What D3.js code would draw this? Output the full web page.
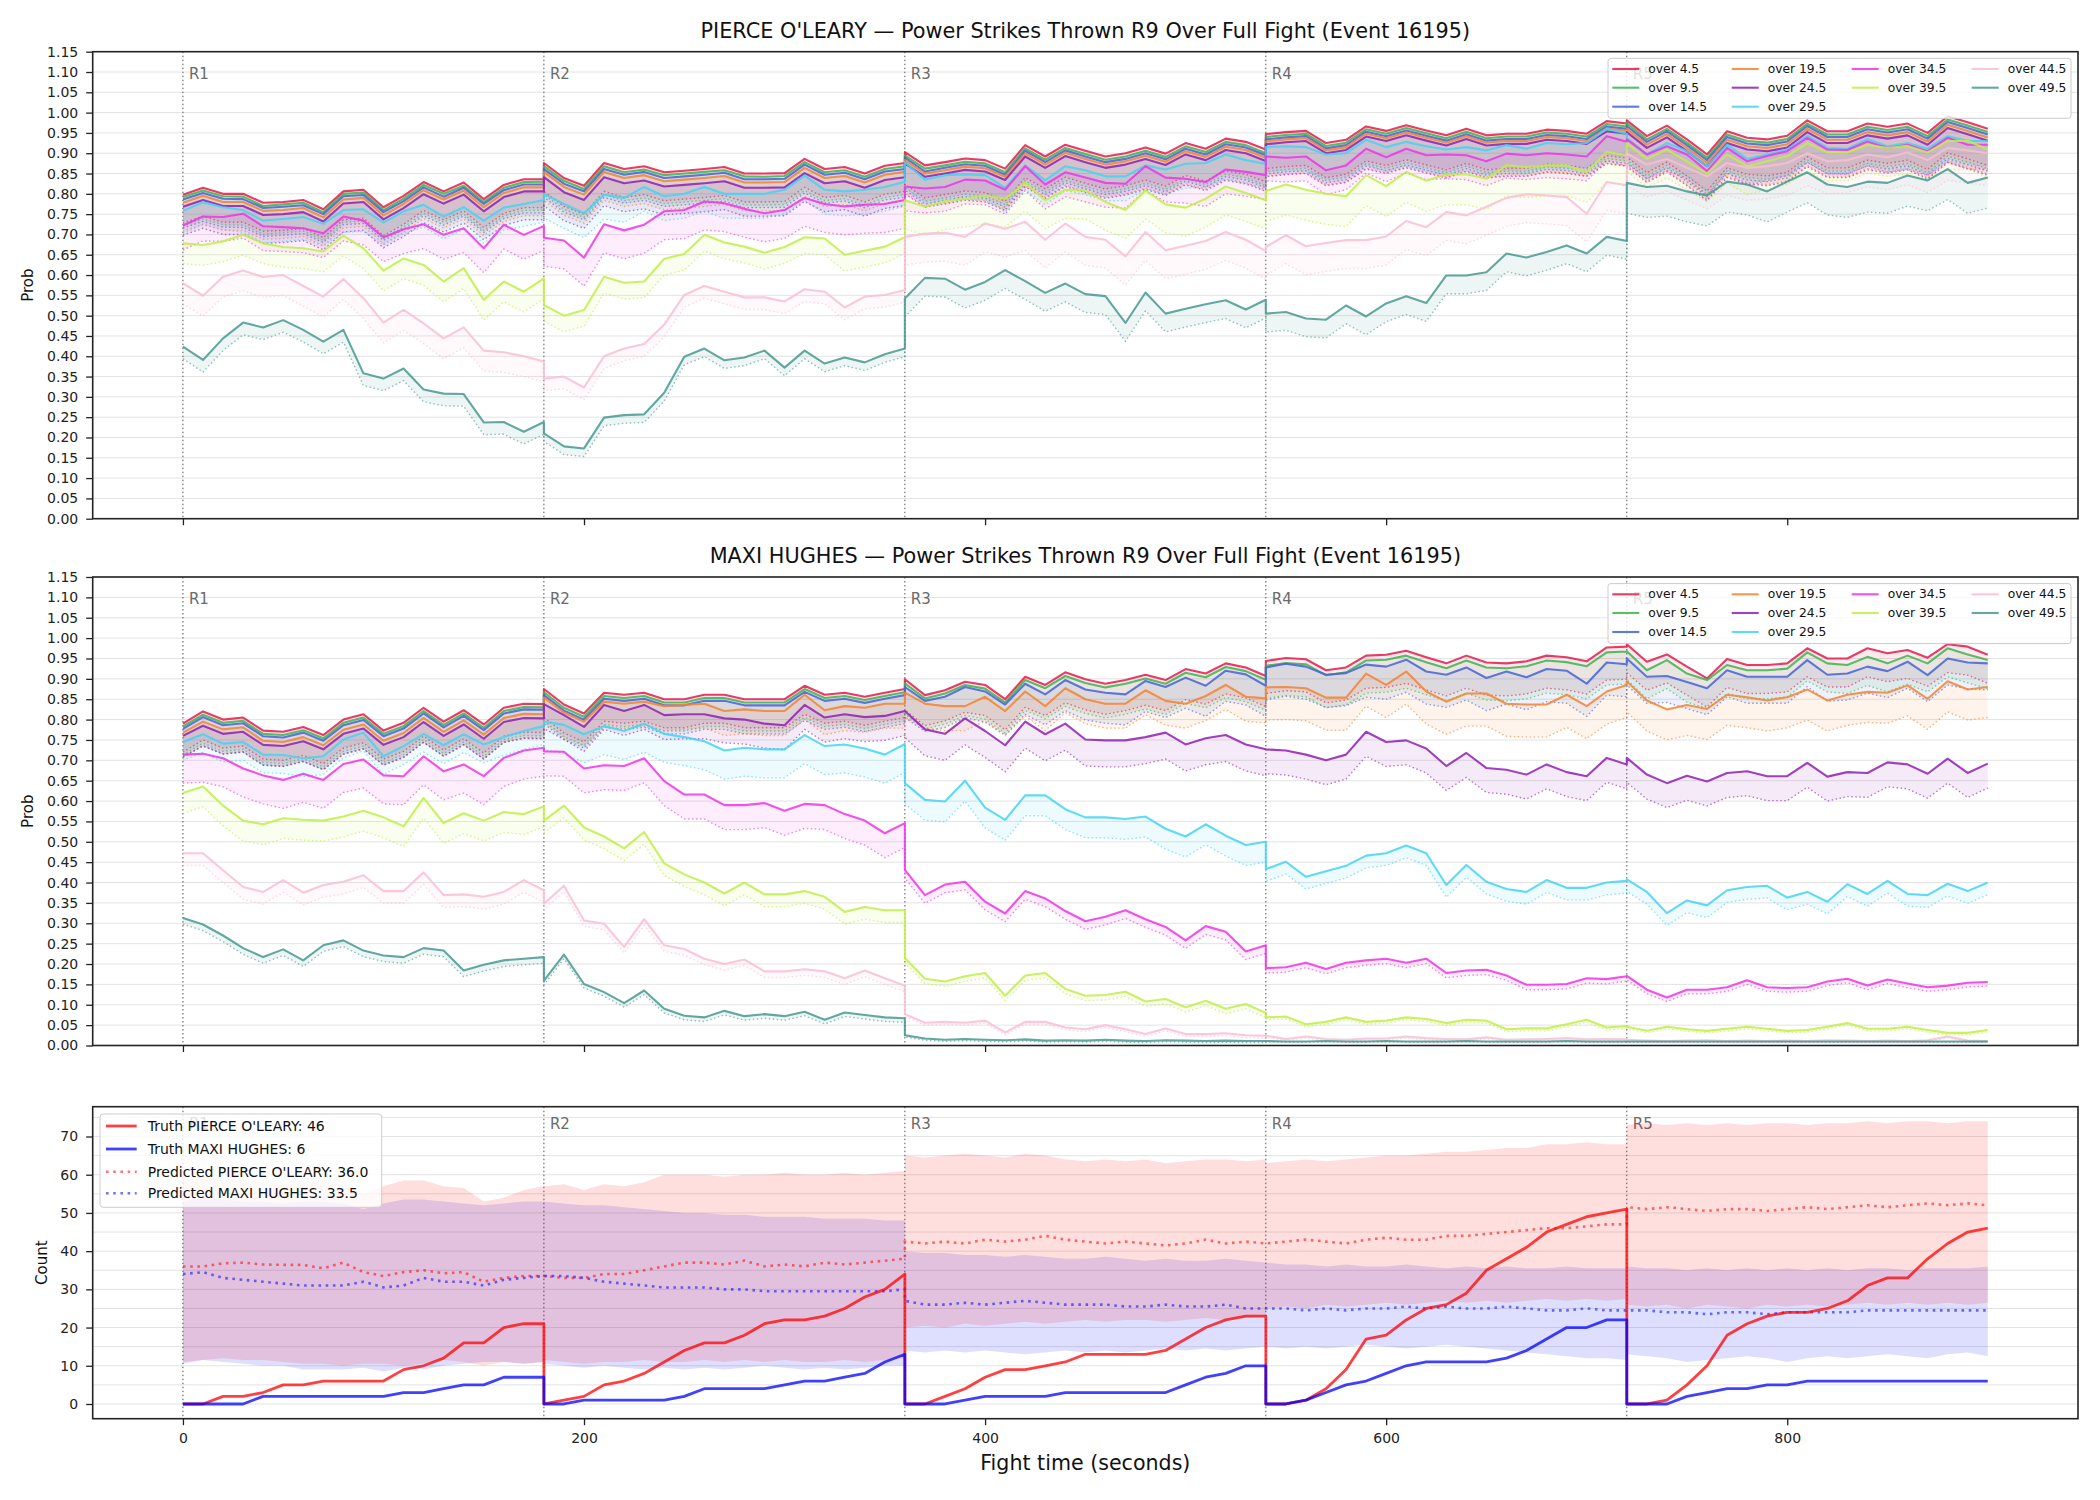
<!DOCTYPE html>
<html lang="en">
<head>
<meta charset="UTF-8">
<title>Power Strikes Thrown R9 Over Full Fight</title>
<script src="https://d3js.org/d3.v7.min.js"></script>
<style>
  body { margin: 0; background: #fff; }
  svg text { font-family: "DejaVu Sans", sans-serif; }
</style>
</head>
<body>
<div id="chart"></div>
<script>
// rounds start every 180 s, each round sampled every 10 s (19 samples, 0..180)
const roundStarts = [0, 180, 360, 540, 720];
const roundLabels = ["R1", "R2", "R3", "R4", "R5"];
const stepSec = 10;
const xTicks = [0, 200, 400, 600, 800];
const probTicks = [0, 0.05, 0.1, 0.15, 0.2, 0.25, 0.3, 0.35, 0.4, 0.45, 0.5, 0.55, 0.6,
                   0.65, 0.7, 0.75, 0.8, 0.85, 0.9, 0.95, 1.0, 1.05, 1.1, 1.15];
const countTicks = [0, 10, 20, 30, 40, 50, 60, 70];
const countGrid = [0, 5, 10, 15, 20, 25, 30, 35, 40, 45, 50, 55, 60, 65, 70, 75];

const lineLabels = ["over 4.5", "over 9.5", "over 14.5", "over 19.5", "over 24.5",
                    "over 29.5", "over 34.5", "over 39.5", "over 44.5", "over 49.5"];
const lineColors = ["#e6194b", "#3cb44b", "#4363d8", "#f58231", "#911eb4",
                    "#42d4f4", "#f032e6", "#bfef45", "#fabed4", "#469990"];

// ---------- PIERCE O'LEARY probabilities (one row per round) ----------
const olearyOver4_5 = [
  .798,.815,.80,.80,.778,.78,.785,.762,.806,.81,.767,.795,.829,.806,.828,.787,.822,.836,.836,
  .876,.839,.82,.876,.861,.868,.853,.857,.861,.866,.85,.85,.851,.886,.861,.866,.85,.869,.876,
  .903,.87,.878,.887,.883,.862,.92,.892,.921,.906,.892,.90,.914,.899,.925,.911,.936,.928,.909,
  .947,.952,.955,.925,.933,.966,.955,.969,.956,.944,.96,.944,.948,.948,.958,.955,.948,.979,.973,
  .981,.942,.968,.934,.897,.954,.938,.934,.943,.981,.954,.954,.973,.965,.973,.95,.991,.976,.96];
const olearyOver9_5 = [
  .792,.808,.794,.793,.77,.774,.778,.755,.80,.803,.76,.788,.822,.80,.82,.78,.815,.829,.83,
  .868,.832,.812,.868,.853,.86,.846,.85,.854,.858,.843,.842,.844,.878,.853,.858,.842,.861,.868,
  .895,.862,.87,.879,.875,.853,.912,.884,.913,.898,.884,.892,.906,.891,.917,.903,.928,.92,.90,
  .94,.945,.948,.918,.926,.959,.948,.962,.949,.937,.953,.937,.941,.941,.951,.948,.941,.972,.966,
  .974,.934,.96,.926,.889,.946,.93,.926,.935,.973,.946,.946,.965,.957,.965,.942,.983,.968,.952];
const olearyOver14_5 = [
  .786,.802,.788,.787,.765,.768,.772,.75,.794,.797,.755,.782,.816,.793,.815,.775,.809,.823,.823,
  .861,.825,.806,.861,.847,.854,.839,.843,.847,.852,.836,.836,.837,.872,.847,.852,.836,.855,.861,
  .889,.855,.864,.873,.869,.847,.906,.878,.907,.892,.878,.886,.90,.885,.911,.897,.922,.914,.895,
  .934,.939,.942,.912,.92,.953,.942,.956,.943,.931,.947,.931,.935,.935,.945,.942,.935,.966,.96,
  .967,.928,.954,.92,.883,.94,.924,.92,.929,.967,.94,.94,.959,.951,.959,.936,.977,.962,.946];
const olearyOver19_5 = [
  .778,.795,.78,.78,.758,.76,.765,.742,.786,.79,.747,.775,.809,.786,.808,.767,.802,.816,.816,
  .854,.817,.798,.854,.839,.846,.831,.835,.839,.844,.828,.828,.829,.864,.839,.844,.828,.847,.854,
  .883,.85,.858,.867,.863,.842,.90,.872,.901,.886,.872,.88,.894,.879,.905,.891,.916,.908,.889,
  .929,.934,.937,.907,.915,.948,.937,.951,.938,.926,.942,.926,.93,.93,.94,.937,.93,.961,.955,
  .96,.921,.947,.913,.876,.933,.917,.913,.922,.96,.933,.933,.952,.944,.952,.929,.97,.955,.939];
const olearyOver24_5 = [
  .768,.785,.77,.77,.748,.75,.755,.732,.776,.78,.737,.765,.799,.776,.798,.757,.792,.806,.806,
  .841,.804,.785,.841,.826,.833,.818,.822,.826,.831,.815,.815,.816,.851,.826,.831,.815,.834,.841,
  .875,.842,.85,.859,.855,.834,.892,.864,.893,.878,.864,.872,.886,.871,.897,.883,.908,.90,.881,
  .922,.927,.93,.90,.908,.941,.93,.944,.931,.919,.935,.919,.923,.923,.933,.93,.923,.954,.948,
  .952,.913,.939,.905,.868,.925,.909,.905,.914,.952,.925,.925,.944,.936,.944,.921,.962,.947,.931];
const olearyOver29_5 = [
  .758,.779,.767,.76,.734,.738,.743,.726,.76,.762,.729,.757,.773,.744,.767,.734,.766,.775,.785,
  .80,.775,.752,.798,.79,.817,.794,.80,.817,.80,.80,.80,.81,.845,.81,.806,.81,.817,.83,
  .878,.835,.846,.848,.846,.815,.87,.833,.868,.858,.843,.843,.87,.86,.874,.876,.897,.883,.874,
  .915,.917,.915,.897,.90,.933,.915,.928,.917,.909,.915,.907,.92,.911,.925,.922,.925,.96,.948,
  .938,.897,.925,.905,.868,.921,.886,.897,.909,.943,.913,.911,.935,.917,.925,.911,.942,.93,.93];
const olearyOver34_5 = [
  .722,.744,.743,.751,.72,.718,.715,.703,.744,.734,.693,.713,.725,.699,.715,.666,.724,.699,.721,
  .692,.685,.643,.725,.71,.724,.757,.76,.781,.777,.763,.752,.76,.79,.775,.769,.773,.775,.785,
  .818,.813,.817,.835,.833,.81,.868,.823,.853,.84,.827,.825,.868,.84,.837,.829,.86,.854,.846,
  .892,.889,.892,.858,.87,.911,.89,.911,.895,.897,.895,.88,.899,.895,.90,.897,.892,.942,.928,
  .934,.897,.917,.897,.856,.913,.88,.893,.905,.938,.909,.908,.929,.913,.921,.905,.938,.921,.921];
const olearyOver39_5 = [
  .678,.674,.683,.699,.678,.669,.666,.658,.697,.666,.611,.641,.625,.584,.617,.539,.584,.559,.592,
  .526,.50,.514,.596,.581,.584,.64,.652,.699,.68,.67,.655,.669,.693,.69,.65,.66,.67,.693,
  .784,.768,.782,.788,.796,.788,.827,.784,.81,.808,.78,.76,.808,.774,.766,.788,.818,.802,.784,
  .807,.823,.81,.80,.794,.846,.819,.854,.832,.848,.848,.837,.87,.866,.87,.87,.854,.903,.895,
  .925,.886,.909,.88,.85,.897,.868,.88,.893,.925,.902,.902,.921,.913,.918,.902,.93,.93,.91];
const olearyOver44_5 = [
  .58,.549,.596,.611,.595,.60,.573,.547,.59,.543,.483,.514,.481,.444,.471,.414,.41,.40,.387,
  .345,.35,.323,.40,.419,.43,.478,.551,.573,.559,.545,.545,.535,.565,.559,.52,.547,.551,.563,
  .694,.702,.704,.694,.727,.714,.731,.687,.727,.694,.687,.646,.706,.661,.672,.684,.706,.687,.659,
  .669,.698,.671,.679,.686,.686,.695,.733,.718,.755,.747,.768,.79,.799,.796,.792,.751,.829,.821,
  .90,.872,.886,.864,.843,.876,.864,.868,.876,.90,.88,.883,.897,.89,.902,.883,.913,.907,.90];
const olearyOver49_5 = [
  .424,.391,.444,.483,.471,.489,.465,.436,.465,.358,.345,.37,.318,.308,.307,.237,.238,.214,.238,
  .21,.178,.173,.249,.255,.257,.31,.399,.419,.39,.397,.414,.372,.414,.382,.397,.385,.405,.419,
  .542,.593,.591,.564,.583,.612,.585,.556,.579,.553,.548,.482,.557,.505,.517,.528,.538,.515,.539,
  .505,.509,.493,.49,.525,.498,.53,.548,.531,.599,.599,.607,.653,.643,.657,.673,.653,.694,.684,
  .827,.817,.82,.806,.796,.83,.823,.806,.83,.853,.823,.817,.83,.827,.845,.833,.861,.827,.84];
// distance from each solid line down to its dotted lower line, per round
const olearyBandGap = [
  [.07,.07,.08,.085,.09], [.07,.07,.08,.085,.09], [.07,.07,.08,.085,.09],
  [.07,.07,.08,.085,.09], [.07,.07,.075,.08,.085], [.055,.06,.06,.06,.06],
  [.06,.07,.06,.06,.06], [.05,.04,.07,.075,.07], [.05,.03,.07,.07,.08],
  [.03,.02,.045,.045,.075]];

// ---------- MAXI HUGHES probabilities ----------
const hughesOver4_5 = [
  .79,.82,.80,.805,.773,.77,.782,.762,.80,.813,.773,.792,.829,.795,.823,.788,.829,.839,.838,
  .875,.837,.815,.866,.861,.866,.85,.85,.861,.861,.85,.85,.85,.883,.861,.866,.856,.866,.875,
  .899,.86,.872,.893,.885,.85,.905,.885,.916,.899,.888,.897,.91,.897,.924,.913,.938,.928,.907,
  .944,.951,.948,.921,.928,.957,.959,.969,.953,.938,.957,.94,.938,.943,.957,.953,.943,.977,.979,
  .985,.942,.96,.93,.901,.949,.934,.934,.938,.975,.95,.95,.975,.963,.971,.952,.985,.979,.959];
const hughesOver9_5 = [
  .783,.812,.792,.797,.765,.762,.774,.754,.792,.805,.765,.784,.821,.787,.815,.78,.821,.831,.83,
  .867,.829,.807,.858,.853,.858,.842,.842,.853,.853,.842,.842,.842,.875,.853,.858,.848,.858,.867,
  .889,.852,.864,.885,.876,.842,.897,.877,.907,.89,.879,.888,.901,.888,.915,.904,.929,.919,.898,
  .932,.939,.936,.909,.916,.945,.947,.957,.941,.926,.945,.928,.926,.931,.945,.941,.931,.965,.967,
  .968,.921,.946,.913,.897,.934,.921,.921,.925,.965,.938,.934,.954,.938,.957,.938,.975,.96,.946];
const hughesOver14_5 = [
  .777,.806,.786,.791,.759,.756,.768,.748,.786,.799,.759,.778,.815,.781,.809,.774,.815,.825,.824,
  .86,.822,.80,.851,.846,.851,.835,.835,.846,.846,.835,.835,.835,.868,.846,.851,.841,.851,.86,
  .88,.846,.856,.88,.869,.837,.888,.862,.897,.874,.866,.862,.895,.88,.903,.883,.92,.911,.883,
  .928,.937,.93,.91,.914,.935,.93,.947,.918,.91,.928,.902,.918,.904,.924,.92,.888,.94,.936,
  .95,.905,.907,.892,.877,.921,.905,.905,.905,.946,.91,.913,.93,.919,.942,.909,.95,.94,.938];
const hughesOver19_5 = [
  .768,.795,.776,.781,.748,.745,.757,.737,.775,.788,.748,.767,.804,.77,.798,.763,.804,.814,.813,
  .854,.817,.795,.844,.839,.844,.833,.836,.839,.821,.825,.821,.821,.861,.823,.833,.829,.839,.839,
  .866,.839,.833,.833,.856,.821,.869,.833,.877,.85,.839,.839,.872,.846,.839,.858,.885,.856,.852,
  .879,.88,.877,.854,.854,.913,.885,.918,.869,.844,.864,.864,.839,.837,.837,.861,.833,.869,.885,
  .894,.847,.825,.836,.826,.861,.855,.847,.855,.874,.847,.861,.868,.866,.884,.851,.894,.874,.88];
const hughesOver24_5 = [
  .76,.785,.765,.77,.738,.735,.747,.727,.765,.778,.738,.757,.794,.76,.788,.753,.794,.804,.803,
  .838,.811,.782,.836,.821,.836,.811,.813,.813,.803,.80,.79,.786,.836,.805,.813,.806,.809,.821,
  .821,.776,.765,.803,.772,.737,.795,.764,.79,.751,.749,.749,.757,.768,.739,.754,.762,.739,.727,
  .727,.724,.714,.70,.714,.77,.745,.749,.729,.686,.718,.681,.677,.665,.69,.671,.661,.706,.69,
  .706,.665,.644,.662,.648,.669,.673,.661,.661,.694,.66,.671,.669,.695,.69,.667,.704,.669,.692];
const hughesOver29_5 = [
  .745,.764,.741,.745,.714,.713,.705,.71,.751,.768,.71,.735,.765,.737,.764,.739,.757,.772,.784,
  .795,.787,.764,.784,.772,.79,.765,.757,.747,.724,.731,.727,.727,.762,.735,.739,.729,.714,.74,
  .644,.603,.599,.65,.584,.554,.614,.614,.58,.56,.56,.556,.562,.532,.513,.543,.515,.492,.50,
  .433,.451,.414,.428,.441,.466,.472,.491,.472,.394,.443,.402,.384,.377,.406,.387,.387,.40,.404,
  .408,.377,.325,.356,.344,.381,.389,.392,.363,.377,.353,.396,.372,.404,.372,.369,.397,.379,.40];
const hughesOver34_5 = [
  .714,.716,.705,.68,.663,.652,.667,.652,.691,.702,.663,.661,.71,.673,.69,.661,.706,.724,.731,
  .722,.721,.68,.688,.686,.705,.649,.616,.616,.59,.59,.595,.576,.593,.59,.568,.552,.521,.546,
  .431,.369,.395,.402,.353,.324,.379,.361,.33,.305,.316,.332,.31,.291,.258,.293,.279,.231,.246,
  .19,.192,.203,.188,.203,.209,.213,.203,.213,.178,.184,.186,.172,.149,.149,.151,.165,.163,.17,
  .171,.137,.118,.137,.137,.143,.16,.143,.141,.143,.157,.164,.147,.162,.152,.143,.147,.154,.156];
const hughesOver39_5 = [
  .62,.636,.589,.552,.543,.558,.554,.552,.562,.576,.56,.538,.608,.546,.57,.552,.573,.568,.587,
  .552,.589,.535,.513,.484,.524,.447,.42,.40,.373,.40,.371,.371,.379,.365,.328,.34,.332,.332,
  .215,.164,.157,.17,.178,.122,.172,.178,.139,.122,.124,.132,.108,.114,.094,.11,.09,.102,.08,
  .069,.071,.052,.058,.069,.058,.061,.069,.065,.055,.063,.061,.04,.042,.042,.052,.063,.044,.048,
  .046,.036,.046,.04,.036,.041,.046,.041,.036,.038,.046,.055,.041,.041,.046,.038,.031,.031,.038];
const hughesOver44_5 = [
  .472,.472,.43,.389,.377,.406,.375,.394,.402,.418,.379,.379,.425,.369,.371,.365,.377,.406,.381,
  .348,.392,.307,.299,.242,.31,.246,.237,.213,.20,.211,.182,.182,.187,.182,.165,.184,.165,.147,
  .077,.056,.058,.056,.061,.032,.058,.058,.044,.04,.05,.04,.028,.042,.028,.028,.03,.025,.024,
  .024,.016,.022,.016,.014,.017,.017,.022,.018,.016,.015,.02,.014,.015,.016,.018,.015,.016,.015,
  .014,.012,.011,.012,.013,.011,.012,.011,.012,.011,.013,.012,.011,.012,.011,.013,.022,.012,.011];
const hughesOver49_5 = [
  .313,.297,.27,.239,.217,.236,.209,.246,.258,.233,.221,.217,.239,.233,.184,.198,.209,.213,.217,
  .159,.223,.151,.131,.104,.135,.09,.073,.069,.085,.072,.077,.072,.083,.063,.081,.075,.069,.067,
  .025,.017,.014,.016,.014,.013,.015,.012,.013,.012,.014,.012,.011,.013,.012,.011,.012,.011,.011,
  .011,.01,.01,.011,.01,.01,.011,.01,.01,.01,.011,.01,.01,.01,.01,.011,.01,.01,.01,
  .01,.01,.01,.01,.01,.01,.01,.01,.01,.01,.01,.01,.01,.01,.01,.01,.01,.01,.01];
const hughesBandGap = [
  [.07,.07,.075,.08,.07], [.07,.07,.075,.08,.07], [.07,.07,.075,.08,.065],
  [.06,.06,.06,.08,.075], [.05,.06,.065,.06,.06], [.045,.07,.05,.03,.03],
  [.07,.06,.02,.012,.01], [.05,.03,.012,.006,.005], [.03,.015,.006,.004,.003],
  [.015,.01,.004,.002,.002]];

// ---------- counts ----------
const truthOleary = [
  0,0,2,2,3,5,5,6,6,6,6,9,10,12,16,16,20,21,21,
  0,1,2,5,6,8,11,14,16,16,18,21,22,22,23,25,28,30,34,
  0,0,2,4,7,9,9,10,11,13,13,13,13,14,17,20,22,23,23,
  0,0,1,4,9,17,18,22,25,26,29,35,38,41,45,47,49,50,51,
  0,0,1,5,10,18,21,23,24,24,25,27,31,33,33,38,42,45,46];
const truthHughes = [
  0,0,0,0,2,2,2,2,2,2,2,3,3,4,5,5,7,7,7,
  0,0,1,1,1,1,1,2,4,4,4,4,5,6,6,7,8,11,13,
  0,0,0,1,2,2,2,2,3,3,3,3,3,3,5,7,8,10,10,
  0,0,1,3,5,6,8,10,11,11,11,11,12,14,17,20,20,22,22,
  0,0,0,2,3,4,4,5,5,6,6,6,6,6,6,6,6,6,6];
const predOleary = [
  36,36,36.8,37,36.5,36.4,36.4,35.5,37,34.5,33.5,34.5,35,34.2,34.5,32,33,33.5,33.5,
  33.5,33,33,34,34,35,36,37,37,36.5,37.5,36,36.5,36,37,36.5,37,37.5,38,
  42.5,42,42.5,42,43,42.5,43,44,43,42.5,42,42.5,42,41.5,42,43,42,42.5,42,
  42,42.5,43,42.5,42,43,43.5,43,43,44,44,44.5,45,45.5,46,46,46.5,47,47,
  51.5,51,51.5,51,50.5,51,51,50.5,51,51.5,51,51.5,52,51.5,52,52.5,52,52.5,52];
const predHughes = [
  34,34.5,33,32.5,32,31.5,31,31,31,32,30.5,31,33,32,32,31,32.5,33,33.5,
  33.5,33.5,33,32,31.5,31,30.5,30.5,30.5,30,30,29.5,29.5,29.5,29.5,29.5,29.5,29.5,30,
  27,26,26,26.5,26,26.5,27,26.5,26,26,26,25.5,25.5,26,25.5,25.5,26,25,25,
  25,25,24.5,25,24.5,25,25,25.5,25,25.5,25,25,25.5,25,24.5,24.5,25,24.5,24.5,
  24.5,24.5,24,24,23.5,24,24,23.5,24,24,24,24,24.5,24.5,24.5,24.5,24.5,24.5,24.5];
const olearyHigh = [
  59,59.5,59,58.5,58,57.5,58,58.5,57,55,57,58.5,58.5,57,56.5,53,54,56,57,
  57,57.5,56,57.5,57,58,60,60,60,59.5,60,60,60.5,60,60,60.5,60,60.5,61,
  65,64.5,65,65.5,65,64.5,65.5,65,64,63.5,64,63.5,64,63,63.5,64,64,63.5,64,
  63,63.5,64,63.5,64,64.5,65,65,65.5,66,66,66.5,67,67,68,68,68.5,68,68,
  73,73.5,73,73.5,73,73.5,73,73.5,73.5,73,73.5,73.5,74,73.5,74,74,73.5,74,74];
const olearyLow = [
  11,11.5,12,11.5,11.5,11,10.5,10.5,10,10.5,10.5,10,10.5,11.5,11,10,11,10.5,11,
  11.5,11,10.5,11,11,11.5,11,11,11.5,11,11.5,11,11.5,11,11,11.5,11,11.5,12,
  20,20.5,20,21,20.5,21,21.5,21,21.5,22,21.5,22,22,21.5,22,22.5,22,22.5,23,
  25,25.5,25,26,25.5,26,26.5,26,26.5,27,26.5,27,26.5,27,27.5,27,27.5,27,27.5,
  26,25.5,26,25,26,25.5,25,26,25.5,26,25.5,26,26.5,26,26.5,26,26.5,26,26.5];
const hughesHigh = [
  53,54,53.5,53,53,52.5,53,53,52.5,51,52.5,53.5,53.5,53,52.5,52,52.5,53,53,
  53,52.5,52,52,51.5,51,50.5,50,50,49.5,49.5,49,49,49,48.5,48.5,48.5,48,48,
  40,39.5,39.5,39,39,38.5,39,38.5,38,38,38.5,38,37.5,38,37.5,37.5,38,37.5,37,
  37,36.5,36.5,36,36.5,36,36,36.5,36,35.5,36,35.5,36,35.5,35.5,36,35.5,35.5,35.5,
  36,35.5,35.5,35,35.5,35,35.5,35,35.5,35,35.5,35,35.5,35.5,35,35.5,35.5,35.5,36];
const hughesLow = [
  10.5,11.5,11,10.5,10,10,9,9,9,9.5,8.5,9.5,9,10,10.5,11,11,10.5,11,
  10.5,10,9.5,10,9.5,9,9.5,9,9.5,9,9.5,10,9.5,9,9.5,9,9.5,10,10,
  14,13.5,14,13.5,14,13.5,13,13.5,14,13.5,14,13.5,14,14.5,14,14.5,14,14.5,15,
  15,14.5,15,14.5,15,15.5,15,14.5,15,15.5,15,14.5,14,13.5,13,12.5,12,12,11.5,
  13,12.5,12,11,11.5,12,12.5,12,11,12,12.5,12,12.5,13,12.5,12,13,13.5,12.5];

// ---------- layout ----------
const W = 2100, H = 1500;
const left = 92.7, right = 2078;
const perRound = 19;

const svg = d3.select("#chart").append("svg")
  .attr("width", W).attr("height", H)
  .style("background", "#fff");

const x = d3.scaleLinear().domain([-45, 945]).range([left, right]);

function timeOf(i) {
  return roundStarts[Math.floor(i / perRound)] + (i % perRound) * stepSec;
}

function drawGridAndRounds(g, y, gridValues, top, bottom, labelDy) {
  g.selectAll(".grid").data(gridValues).enter().append("line")
    .attr("x1", left).attr("x2", right)
    .attr("y1", d => y(d)).attr("y2", d => y(d))
    .attr("stroke", "#e3e3e3").attr("stroke-width", 1);
  g.selectAll(".rline").data(roundStarts).enter().append("line")
    .attr("x1", d => x(d)).attr("x2", d => x(d))
    .attr("y1", top).attr("y2", bottom)
    .attr("stroke", "#555").attr("stroke-width", 1)
    .attr("stroke-dasharray", "1.5,2.5");
  g.selectAll(".rlab").data(roundStarts).enter().append("text")
    .attr("x", d => x(d) + 6).attr("y", top + labelDy)
    .attr("dominant-baseline", "hanging")
    .attr("font-size", 15).attr("fill", "#6a6a6a")
    .text((d, i) => roundLabels[i]);
}

function drawFrameAndAxes(g, y, yTicks, fmt, top, bottom, showXLabels) {
  g.append("rect")
    .attr("x", left).attr("y", top)
    .attr("width", right - left).attr("height", bottom - top)
    .attr("fill", "none").attr("stroke", "#222").attr("stroke-width", 1.6);

  const ya = g.append("g").attr("transform", `translate(${left},0)`)
    .call(d3.axisLeft(y).tickValues(yTicks).tickFormat(fmt).tickSize(6.5).tickPadding(8));
  ya.select(".domain").remove();
  ya.selectAll("line").attr("stroke", "#222").attr("stroke-width", 1.3);
  ya.selectAll("text").attr("font-size", 14).attr("fill", "#222")
    .style("font-family", "DejaVu Sans, sans-serif");

  const xa = g.append("g").attr("transform", `translate(0,${bottom})`)
    .call(d3.axisBottom(x).tickValues(xTicks)
      .tickFormat(showXLabels ? d3.format("d") : () => "")
      .tickSize(6.5).tickPadding(8));
  xa.select(".domain").remove();
  xa.selectAll("line").attr("stroke", "#222").attr("stroke-width", 1.3);
  xa.selectAll("text").attr("font-size", 14).attr("fill", "#222")
    .style("font-family", "DejaVu Sans, sans-serif");
}

function drawProbPanel(top, bottom, title, series, gaps) {
  const g = svg.append("g");
  const y = d3.scaleLinear().domain([0, 1.15]).range([bottom, top]);

  drawGridAndRounds(g, y, probTicks, top, bottom, 16);

  const data = series.map((vals, s) => vals.map((v, i) => ({
    t: timeOf(i), v: v,
    lo: Math.max(0, v - gaps[s][Math.floor(i / perRound)])
  })));

  const area = d3.area().x(d => x(d.t)).y0(d => y(d.lo)).y1(d => y(d.v));
  const upper = d3.line().x(d => x(d.t)).y(d => y(d.v));
  const lower = d3.line().x(d => x(d.t)).y(d => y(d.lo));

  data.forEach((pts, s) => {
    g.append("path").attr("d", area(pts))
      .attr("fill", lineColors[s]).attr("fill-opacity", 0.09);
  });
  data.forEach((pts, s) => {
    g.append("path").attr("d", lower(pts))
      .attr("fill", "none").attr("stroke", lineColors[s])
      .attr("stroke-width", 1.4).attr("stroke-opacity", 0.6)
      .attr("stroke-dasharray", "1.5,2.5");
  });
  data.forEach((pts, s) => {
    g.append("path").attr("d", upper(pts))
      .attr("fill", "none").attr("stroke", lineColors[s])
      .attr("stroke-width", 2.1).attr("stroke-opacity", 0.85)
      .attr("stroke-linejoin", "round");
  });

  drawFrameAndAxes(g, y, probTicks, d3.format(".2f"), top, bottom, false);

  g.append("text")
    .attr("x", (left + right) / 2).attr("y", top - 14)
    .attr("text-anchor", "middle").attr("font-size", 20.8).attr("fill", "#111")
    .text(title);
  g.append("text")
    .attr("transform", `translate(28,${(top + bottom) / 2}) rotate(-90)`)
    .attr("text-anchor", "middle").attr("dominant-baseline", "central")
    .attr("font-size", 15).attr("fill", "#111")
    .text("Prob");

  // legend, 4 columns filled column by column
  const lg = g.append("g");
  lg.append("rect")
    .attr("x", 1608).attr("y", top + 6.6).attr("width", 463).attr("height", 60)
    .attr("rx", 3).attr("fill", "#fff").attr("fill-opacity", 0.8)
    .attr("stroke", "#cccccc").attr("stroke-width", 1);
  const colX = [1612.3, 1731.7, 1851.7, 1971.7];
  const rowY = [17.3, 36, 55];
  const perCol = [3, 3, 2, 2];
  let k = 0;
  perCol.forEach((n, c) => {
    for (let r = 0; r < n; r++, k++) {
      const yy = top + rowY[r];
      lg.append("line")
        .attr("x1", colX[c]).attr("x2", colX[c] + 27)
        .attr("y1", yy).attr("y2", yy)
        .attr("stroke", lineColors[k]).attr("stroke-width", 2.1).attr("stroke-opacity", 0.85);
      lg.append("text")
        .attr("x", colX[c] + 36).attr("y", yy)
        .attr("dominant-baseline", "central")
        .attr("font-size", 12.3).attr("fill", "#111")
        .text(lineLabels[k]);
    }
  });
}

drawProbPanel(51.7, 518.7,
  "PIERCE O'LEARY \u2014 Power Strikes Thrown R9 Over Full Fight (Event 16195)",
  [olearyOver4_5, olearyOver9_5, olearyOver14_5, olearyOver19_5, olearyOver24_5,
   olearyOver29_5, olearyOver34_5, olearyOver39_5, olearyOver44_5, olearyOver49_5],
  olearyBandGap);

drawProbPanel(577, 1045.5,
  "MAXI HUGHES \u2014 Power Strikes Thrown R9 Over Full Fight (Event 16195)",
  [hughesOver4_5, hughesOver9_5, hughesOver14_5, hughesOver19_5, hughesOver24_5,
   hughesOver29_5, hughesOver34_5, hughesOver39_5, hughesOver44_5, hughesOver49_5],
  hughesBandGap);

// ---------- count panel ----------
(function () {
  const top = 1106.7, bottom = 1418.7;
  const g = svg.append("g");
  const y = d3.scaleLinear().domain([-3.85, 77.8]).range([bottom, top]);

  drawGridAndRounds(g, y, countGrid, top, bottom, 11.5);

  const pts = arr => arr.map((v, i) => ({ t: timeOf(i), v: v }));
  const band = (hi, lo) => hi.map((v, i) => ({ t: timeOf(i), hi: v, lo: lo[i] }));
  const area = d3.area().x(d => x(d.t)).y0(d => y(d.lo)).y1(d => y(d.hi));
  const line = d3.line().x(d => x(d.t)).y(d => y(d.v));

  g.append("path").attr("d", area(band(hughesHigh, hughesLow)))
    .attr("fill", "#0000ff").attr("fill-opacity", 0.13);
  g.append("path").attr("d", area(band(olearyHigh, olearyLow)))
    .attr("fill", "#ff0000").attr("fill-opacity", 0.13);

  g.append("path").attr("d", line(pts(predOleary)))
    .attr("fill", "none").attr("stroke", "#ff0000").attr("stroke-opacity", 0.55)
    .attr("stroke-width", 2.6).attr("stroke-dasharray", "2.6,4.6");
  g.append("path").attr("d", line(pts(predHughes)))
    .attr("fill", "none").attr("stroke", "#0000ff").attr("stroke-opacity", 0.55)
    .attr("stroke-width", 2.6).attr("stroke-dasharray", "2.6,4.6");

  g.append("path").attr("d", line(pts(truthOleary)))
    .attr("fill", "none").attr("stroke", "#ff0000").attr("stroke-opacity", 0.75)
    .attr("stroke-width", 2.8).attr("stroke-linejoin", "round");
  g.append("path").attr("d", line(pts(truthHughes)))
    .attr("fill", "none").attr("stroke", "#0000ff").attr("stroke-opacity", 0.75)
    .attr("stroke-width", 2.8).attr("stroke-linejoin", "round");

  drawFrameAndAxes(g, y, countTicks, d3.format("d"), top, bottom, true);

  g.append("text")
    .attr("transform", `translate(42,${(top + bottom) / 2}) rotate(-90)`)
    .attr("text-anchor", "middle").attr("dominant-baseline", "central")
    .attr("font-size", 15).attr("fill", "#111")
    .text("Count");
  g.append("text")
    .attr("x", (left + right) / 2).attr("y", 1470)
    .attr("text-anchor", "middle").attr("font-size", 20.6).attr("fill", "#111")
    .text("Fight time (seconds)");

  const legendItems = [
    { label: "Truth PIERCE O'LEARY: 46", color: "#ff0000", dash: null },
    { label: "Truth MAXI HUGHES: 6", color: "#0000ff", dash: null },
    { label: "Predicted PIERCE O'LEARY: 36.0", color: "#ff0000", dash: "2.6,4.6" },
    { label: "Predicted MAXI HUGHES: 33.5", color: "#0000ff", dash: "2.6,4.6" }
  ];
  const rows = [1126, 1149, 1171.7, 1193.3];
  const lg = g.append("g");
  lg.append("rect")
    .attr("x", 100).attr("y", 1114).attr("width", 281.7).attr("height", 93.3)
    .attr("rx", 3).attr("fill", "#fff").attr("fill-opacity", 0.8)
    .attr("stroke", "#cccccc").attr("stroke-width", 1);
  legendItems.forEach((it, i) => {
    lg.append("line")
      .attr("x1", 106).attr("x2", 136.7).attr("y1", rows[i]).attr("y2", rows[i])
      .attr("stroke", it.color)
      .attr("stroke-opacity", it.dash ? 0.55 : 0.75)
      .attr("stroke-width", it.dash ? 2.6 : 2.8)
      .attr("stroke-dasharray", it.dash);
    lg.append("text")
      .attr("x", 147.7).attr("y", rows[i])
      .attr("dominant-baseline", "central")
      .attr("font-size", 14).attr("fill", "#111")
      .text(it.label);
  });
})();
</script>
</body>
</html>
